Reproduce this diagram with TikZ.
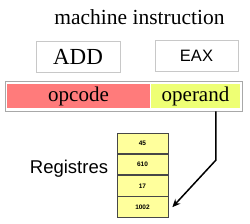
\documentclass[tikz,border=0pt]{standalone}
\usepackage{fontspec}
\setmainfont{Liberation Serif}
\setsansfont{Liberation Sans}
\usepackage{tikz}
\usetikzlibrary{positioning, arrows.meta, calc}
\definecolor{opred}{HTML}{FF7B7B}
\definecolor{opyellow}{HTML}{EEFF74}
\definecolor{regfill}{HTML}{FFFF9C}
\definecolor{boxline}{HTML}{C8C8C8}
\definecolor{barline}{HTML}{A8A8A8}
\definecolor{regline}{HTML}{474747}

\begin{document}
\begin{tikzpicture}[x=1pt,y=-1pt,
 field/.style={inner sep=0pt, minimum height=24pt},
 lbl/.style={draw=boxline, line width=0.8pt, fill=white, inner sep=0pt, minimum width=84pt, minimum height=31pt},
 reg/.style={draw=regline, line width=0.8pt, fill=regfill, inner sep=0pt, minimum width=51pt, minimum height=20.5pt, font=\sffamily\bfseries\fontsize{6.5}{7}\selectfont}]
\useasboundingbox (0,0) rectangle (250,224);

\node[font=\fontsize{21.5}{24}\selectfont](title) at (139.5,17){machine instruction};
\node[lbl,font=\fontsize{23}{26}\selectfont](add) at (78,56.5){ADD};
\node[lbl,minimum width=83pt,font=\sffamily\fontsize{16.5}{18}\selectfont](eax) at (196.5,55.5){EAX};

\node[draw=barline, line width=0.8pt, fill=white, minimum width=237pt, minimum height=30pt, inner sep=0pt](bar) at (123.5,96){};
\node[field,fill=opred,minimum width=143pt,font=\fontsize{21}{24}\selectfont](opcode) at (78.5,96){opcode};
\node[field,fill=opyellow,minimum width=89pt,font=\fontsize{21}{24}\selectfont](operand) at (195.5,96){operand};

\node[reg](r1) at (142.5,143.25){45};
\node[reg,below=0pt of r1](r2){610};
\node[reg,below=0pt of r2](r3){17};
\node[reg,below=0pt of r3](r4){1002};
\node[font=\sffamily\fontsize{18.5}{20}\selectfont](regs) at (69,169){Registres};

\coordinate (bend) at (216,160);
\draw[-{Stealth[length=8pt,width=7pt]},line width=1.5pt](bar.south -| bend)--(bend)--([xshift=4pt]r4.east);

\end{tikzpicture}
\end{document}
